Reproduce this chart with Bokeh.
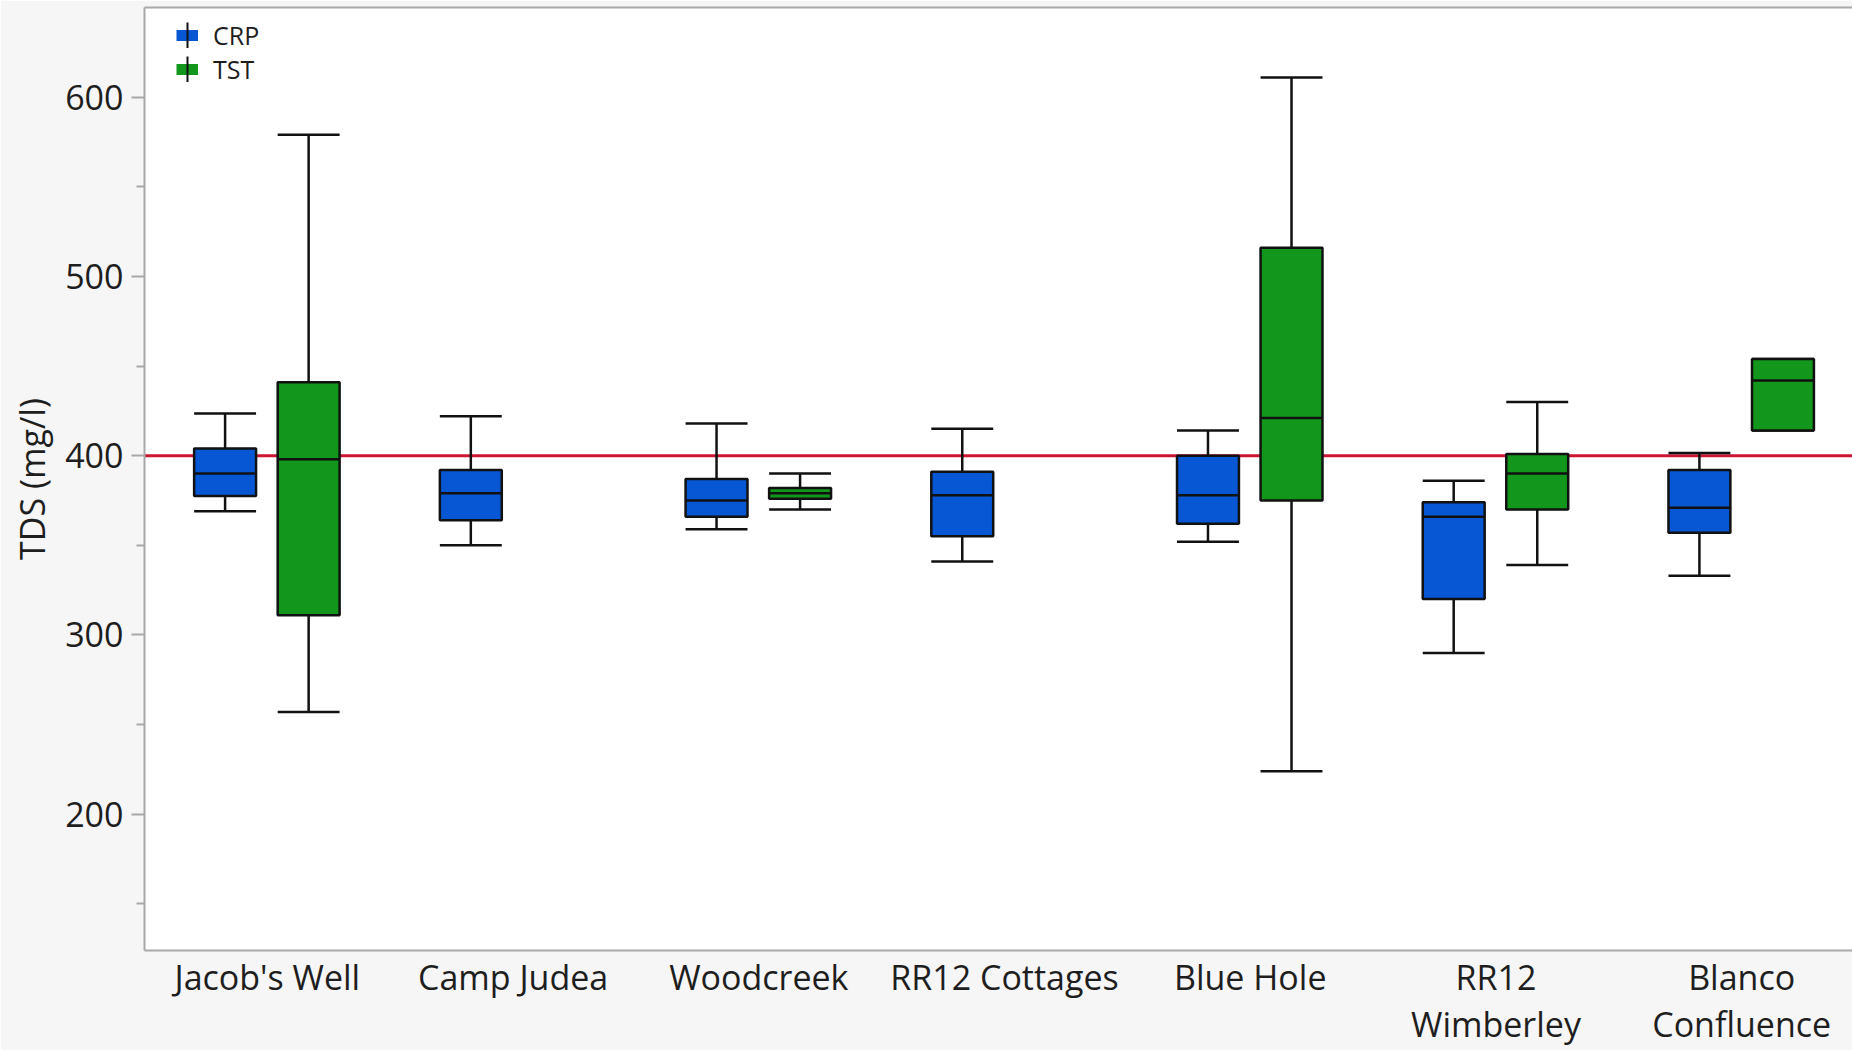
import numpy as np
from bokeh.plotting import figure
from bokeh.models import (ColumnDataSource, Span, Legend, LegendItem, FixedTicker,
                          Range1d, LinearAxis)
from bokeh.embed import file_html
from bokeh.resources import INLINE

# ---------------- data ----------------
sites = ["Jacob's Well", "Camp Judea", "Woodcreek", "RR12 Cottages",
         "Blue Hole", "RR12 Wimberley", "Blanco Confluence"]
site_tick_labels = ["Jacob's Well", "Camp Judea", "Woodcreek", "RR12 Cottages",
                    "Blue Hole", "RR12\nWimberley", "Blanco\nConfluence"]

crp_low  = [369, 350, 359, 341, 352, 290, 333]
crp_q1   = [377.5, 364, 366, 355, 362, 320, 357]
crp_med  = [390, 379, 375, 378, 378, 366, 371]
crp_q3   = [404, 392, 387, 391, 400, 374, 392]
crp_high = [423.5, 422, 418, 415, 414, 386, 401.5]

tst_low  = [257, None, 370, None, 224, 339, 414]
tst_q1   = [311, None, 376, None, 375, 370, 414]
tst_med  = [398, None, 379, None, 421, 390, 442]
tst_q3   = [441, None, 382, None, 516, 401, 454]
tst_high = [579, None, 390, None, 611, 430, 454]

standard_tds = 400
y_ticks = [200, 300, 400, 500, 600]
y_minor_ticks = [150, 250, 350, 450, 550]

CRP_COLOR = "#0757D5"
TST_COLOR = "#12961B"
LINE_COLOR = "#111111"
AXIS_COLOR = "#a8a8a8"
TEXT_COLOR = "#1e1e1e"
FONT = "Open Sans"

BOX_W = 0.252
CRP_OFF = -0.172
TST_OFF = 0.168


def box_source(low, q1, med, q3, high, offset):
    keep = [i for i in range(len(sites)) if med[i] is not None]
    x = np.array([i + 0.5 + offset for i in keep])
    return ColumnDataSource(dict(
        site=[sites[i] for i in keep],
        x=x, x0=x - BOX_W / 2, x1=x + BOX_W / 2,
        low=[low[i] for i in keep], q1=[q1[i] for i in keep],
        med=[med[i] for i in keep], q3=[q3[i] for i in keep],
        high=[high[i] for i in keep],
    ))


crp_src = box_source(crp_low, crp_q1, crp_med, crp_q3, crp_high, CRP_OFF)
tst_src = box_source(tst_low, tst_q1, tst_med, tst_q3, tst_high, TST_OFF)

# ---------------- figure ----------------
p = figure(width=1852, height=1050,
           x_range=Range1d(0, 6.951), y_range=Range1d(124, 650),
           output_backend="svg", toolbar_location=None,
           min_border_left=144, min_border_right=0, min_border_top=7,
           min_border_bottom=97,
           background_fill_color="white", border_fill_color="#f6f6f6")
p.outline_line_color = None
p.xgrid.visible = False
p.ygrid.visible = False

p.add_layout(Span(location=standard_tds, dimension="width", line_color="#CC1433",
                  line_width=3, level="underlay"))

for src, color in ((crp_src, CRP_COLOR), (tst_src, TST_COLOR)):
    p.segment(x0="x", y0="q3", x1="x", y1="high", source=src,
              line_color=LINE_COLOR, line_width=2.5)
    p.segment(x0="x", y0="low", x1="x", y1="q1", source=src,
              line_color=LINE_COLOR, line_width=2.5)
    p.segment(x0="x0", y0="high", x1="x1", y1="high", source=src,
              line_color=LINE_COLOR, line_width=2.5)
    p.segment(x0="x0", y0="low", x1="x1", y1="low", source=src,
              line_color=LINE_COLOR, line_width=2.5)
    p.vbar(x="x", width=BOX_W, top="q3", bottom="q1", source=src,
           fill_color=color, line_color=LINE_COLOR, line_width=2.5)
    p.segment(x0="x0", y0="med", x1="x1", y1="med", source=src,
              line_color=LINE_COLOR, line_width=2.5)

# ---------------- axes ----------------
xa = p.xaxis[0]
xa.ticker = FixedTicker(ticks=[i + 0.5 for i in range(len(sites))])
xa.major_label_overrides = {i + 0.5: lab for i, lab in enumerate(site_tick_labels)}
xa.major_tick_out = 0
xa.major_tick_in = 0
xa.minor_tick_out = 0
xa.minor_tick_in = 0
xa.axis_line_color = AXIS_COLOR
xa.axis_line_width = 2
xa.major_label_standoff = 3
xa.major_label_text_font = FONT
xa.major_label_text_font_size = "34px"
xa.major_label_text_color = TEXT_COLOR
xa.major_label_text_line_height = 1.04

ya = p.yaxis[0]
ya.ticker = FixedTicker(ticks=y_ticks, minor_ticks=y_minor_ticks)
ya.major_tick_out = 13
ya.major_tick_in = 0
ya.minor_tick_out = 8
ya.minor_tick_in = 0
ya.major_tick_line_color = AXIS_COLOR
ya.minor_tick_line_color = AXIS_COLOR
ya.major_tick_line_width = 2
ya.minor_tick_line_width = 2
ya.axis_line_color = AXIS_COLOR
ya.axis_line_width = 2
ya.major_label_standoff = 8
ya.major_label_text_font = FONT
ya.major_label_text_font_size = "34px"
ya.major_label_text_color = TEXT_COLOR
ya.axis_label = "TDS (mg/l)"
ya.axis_label_text_font = FONT
ya.axis_label_text_font_size = "34px"
ya.axis_label_text_font_style = "normal"
ya.axis_label_text_color = TEXT_COLOR
ya.axis_label_standoff = 7

top_axis = LinearAxis(ticker=FixedTicker(ticks=[]), axis_line_color=AXIS_COLOR,
                      axis_line_width=2, major_tick_out=0, major_tick_in=0,
                      minor_tick_out=0, minor_tick_in=0, major_label_standoff=0,
                      major_label_text_font_size="0px")
p.add_layout(top_axis, "above")

# ---------------- legend ----------------
# legend-only renderers (NaN data: nothing is drawn in the plot area)
nan = [np.nan]
legend_items = []
for name, color in (("CRP", CRP_COLOR), ("TST", TST_COLOR)):
    swatch = p.segment(x0=nan, y0=nan, x1=nan, y1=nan, line_color=color,
                       line_width=11, line_cap="butt")
    # a dashed horizontal stroke drawn 26px thick shows as a short vertical bar
    stem = p.segment(x0=nan, y0=nan, x1=nan, y1=nan, line_color=LINE_COLOR,
                     line_width=26, line_cap="butt", line_dash="0 10 2 40")
    legend_items.append(LegendItem(label=name, renderers=[swatch, stem]))

legend = Legend(items=legend_items,
                location=(32, 864), margin=0, padding=0, spacing=0,
                glyph_width=22, glyph_height=26, label_height=33,
                label_standoff=15, label_text_font=FONT,
                label_text_font_size="25px", label_text_color=TEXT_COLOR,
                background_fill_alpha=0, border_line_color=None)
p.add_layout(legend)

open("out.html", "w").write(file_html(p, INLINE))
